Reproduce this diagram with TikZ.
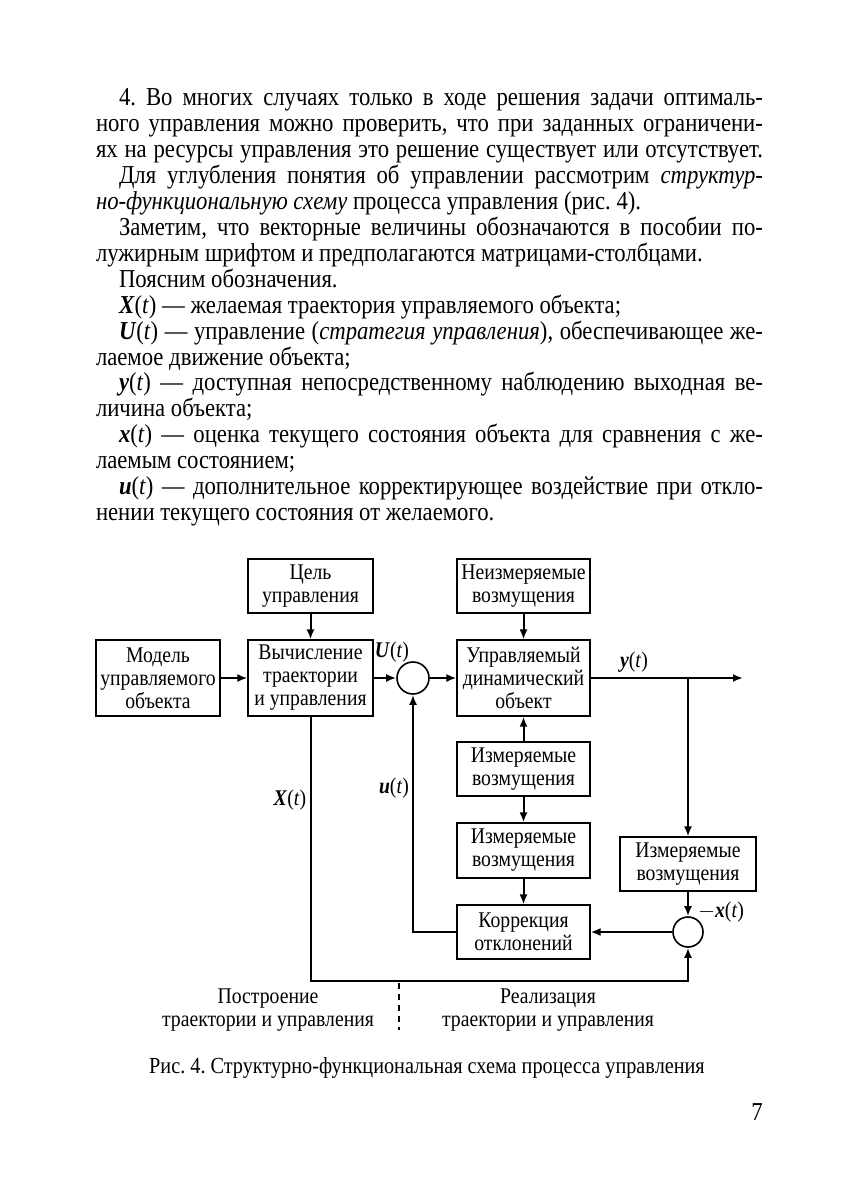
\documentclass[tikz,border=0pt]{standalone}
\usepackage{fontspec}
\setmainfont[FakeStretch=0.88]{Liberation Serif}
\frenchspacing
\usetikzlibrary{positioning, arrows.meta}
\newcommand{\strelka}{-{Latex[length=5pt,width=4pt]}}
\newcommand{\tekst}{\fontsize{12.9}{13}\selectfont}
\newcommand{\shema}{\fontsize{11.2}{11.5}\selectfont}
\newcommand{\podrisunok}{\fontsize{11.5}{13}\selectfont}
\newcommand{\vek}[1]{\textbf{\textit{#1}}(\textit{t})}
\newcommand{\polnaya}[1]{\makebox[333.5pt][s]{#1}}
\newcommand{\otstup}[1]{\makebox[322pt][s]{#1}}
\tikzset{
  stroka/.style={anchor=base west, inner sep=0pt, font=\tekst},
  blok/.style={draw, line width=0.6pt, align=center, inner sep=1pt, font=\shema},
  summa/.style={draw, circle, line width=0.8pt, inner sep=0pt},
  podpis/.style={inner sep=1pt, font=\shema}
}

\begin{document}
\begin{tikzpicture}[x=0.5pt, y=-0.5pt, line width=1pt]
  \useasboundingbox (0,0) rectangle (857,1182);
  % text above the figure
  \node[stroka] (t1) at (118,105.5) {\otstup{4. Во многих случаях только в ходе решения задачи оптималь-}};
  \node[stroka] (t2) at (95,131.45) {\polnaya{ного управления можно проверить, что при заданных ограничени-}};
  \node[stroka] (t3) at (95,157.4) {\polnaya{ях на ресурсы управления это решение существует или отсутствует.}};
  \node[stroka] (t4) at (118,183.35) {\otstup{Для углубления понятия об управлении рассмотрим \textit{структур-}}};
  \node[stroka] (t5) at (95,209.3) {\textit{но-функциональную схему} процесса управления (рис. 4).};
  \node[stroka] (t6) at (118,235.25) {\otstup{Заметим, что векторные величины обозначаются в пособии по-}};
  \node[stroka] (t7) at (95,261.2) {лужирным шрифтом и предполагаются матрицами-столбцами.};
  \node[stroka] (t8) at (118,287.15) {Поясним обозначения.};
  \node[stroka] (t9) at (118,313.1) {\vek{X} — желаемая траектория управляемого объекта;};
  \node[stroka] (t10) at (118,339.05) {\otstup{\vek{U} — управление (\textit{стратегия управления}), обеспечивающее же-}};
  \node[stroka] (t11) at (95,365) {лаемое движение объекта;};
  \node[stroka] (t12) at (118,390.95) {\otstup{\vek{y} — доступная непосредственному наблюдению выходная ве-}};
  \node[stroka] (t13) at (95,416.9) {личина объекта;};
  \node[stroka] (t14) at (118,442.85) {\otstup{\vek{x} — оценка текущего состояния объекта для сравнения с же-}};
  \node[stroka] (t15) at (95,468.8) {лаемым состоянием;};
  \node[stroka] (t16) at (118,494.75) {\otstup{\vek{u} — дополнительное корректирующее воздействие при откло-}};
  \node[stroka] (t17) at (95,520.7) {нении текущего состояния от желаемого.};

  % blocks
  \node[blok, minimum width=62pt, minimum height=38pt] (model) at (158,678) {Модель\\управляемого\\объекта};
  \node[blok, minimum width=62.5pt, minimum height=27pt] (cel) at (310.5,586) {Цель\\управления};
  \node[blok, minimum width=62.5pt, minimum height=38pt] (vych) at (310.5,678) {Вычисление\\траектории\\и управления};
  \node[summa, minimum size=16pt] (sum1) at (413,678) {};
  \node[blok, minimum width=66.5pt, minimum height=27pt] (neizm) at (523.5,586) {Неизмеряемые\\возмущения};
  \node[blok, minimum width=66.5pt, minimum height=38pt] (obj) at (523.5,678) {Управляемый\\динамический\\объект};
  \node[blok, minimum width=66.5pt, minimum height=27pt] (izm1) at (523.5,769) {Измеряемые\\возмущения};
  \node[blok, minimum width=66.5pt, minimum height=27.5pt] (izm2) at (523.5,850.5) {Измеряемые\\возмущения};
  \node[blok, minimum width=66.5pt, minimum height=27pt] (korr) at (523.5,932) {Коррекция\\отклонений};
  \node[blok, minimum width=68pt, minimum height=27pt] (izm3) at (688,864) {Измеряемые\\возмущения};
  \node[summa, minimum size=15pt] (sum2) at (688,932) {};
  \coordinate (vyhod) at (743,678);
  \coordinate (razv) at (688,678);
  \coordinate (niz) at (688,981);

  % connectors
  \draw[\strelka] (model) -- (vych);
  \draw[\strelka] (cel) -- (vych);
  \draw[\strelka] (vych) -- (sum1);
  \draw[\strelka] (sum1) -- (obj);
  \draw[\strelka] (neizm) -- (obj);
  \draw[\strelka] (izm1) -- (obj);
  \draw[\strelka] (izm1) -- (izm2);
  \draw[\strelka] (izm2) -- (korr);
  \draw[\strelka] (obj) -- (vyhod);
  \draw[\strelka] (razv) -- (izm3);
  \draw[\strelka] (izm3) -- (sum2);
  \draw[\strelka] (sum2) -- (korr);
  \draw[\strelka] (korr.west) -| (sum1.south);
  \draw[\strelka] (vych.south) |- (niz) -- (sum2.south);
  \coordinate (granica) at (399,983);
  \draw[dashed, dash pattern=on 3pt off 2.5pt, line width=0.8pt] (granica) -- ++(0,47);

  % signal labels
  \node[podpis] (Ut) at (392,652) {\vek{U}};
  \node[podpis] (yt) at (634,662) {\vek{y}};
  \node[podpis] (Xt) at (290,800) {\vek{X}};
  \node[podpis] (ut) at (394,788) {\vek{u}};
  \node[podpis] (xt) at (721,912) {$-$\vek{x}};

  % parts of the scheme
  \node[podpis, align=center] (postr) at (268,1010) {Построение\\траектории и управления};
  \node[podpis, align=center] (real) at (548,1010) {Реализация\\траектории и управления};

  % caption and page number
  \node[inner sep=1pt, font=\podrisunok] (caption) at (427,1068) {Рис. 4. Структурно-функциональная схема процесса управления};
  \node[inner sep=0pt, font=\tekst] (page) at (757,1112) {7};
\end{tikzpicture}
\end{document}
